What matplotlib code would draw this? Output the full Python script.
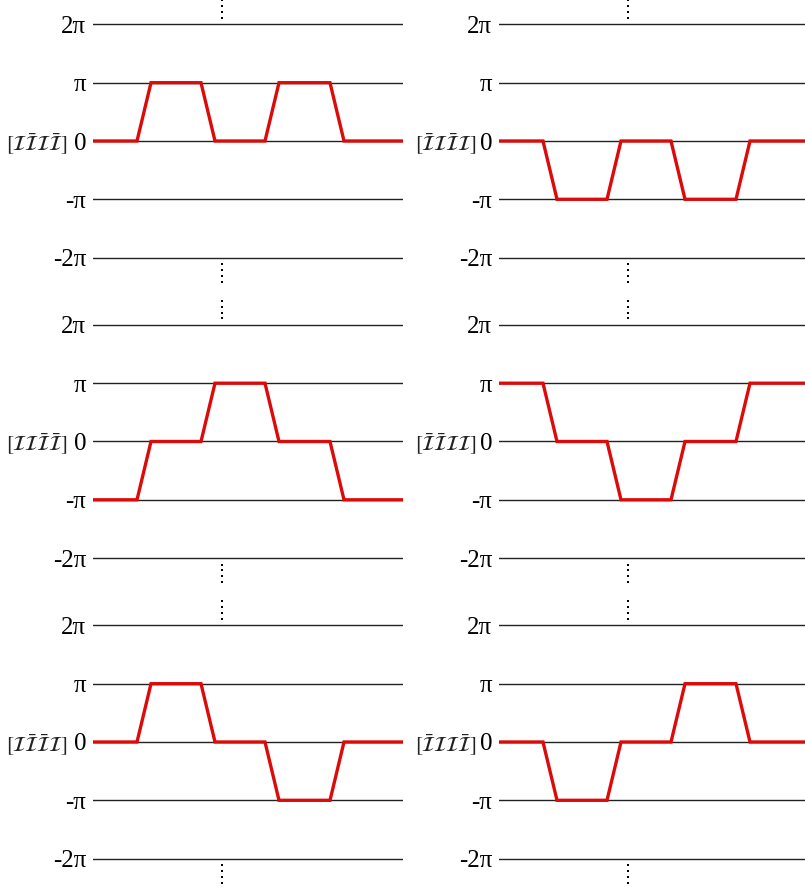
import numpy as np
import matplotlib
matplotlib.use('Agg')
import matplotlib.pyplot as plt

plt.rcParams['font.family'] = ['Liberation Serif', 'DejaVu Serif']
plt.rcParams['mathtext.fontset'] = 'stix'

# breakpoints of the trajectories (flat parts joined by short ramps)
t_break = [0, 44, 58, 108, 122, 172, 186, 237, 251, 310]

# level of each flat part, in units of pi
levels_tl = [0, 1, 0, 1, 0]
levels_tr = [0, -1, 0, -1, 0]
levels_ml = [-1, 0, 1, 0, -1]
levels_mr = [1, 0, -1, 0, 1]
levels_bl = [0, 1, 0, -1, 0]
levels_br = [0, -1, 0, 1, 0]

# sequence labels (b = barred)
seq_tl = ['I', 'b', 'I', 'b']
seq_tr = ['b', 'I', 'b', 'I']
seq_ml = ['I', 'I', 'b', 'b']
seq_mr = ['b', 'b', 'I', 'I']
seq_bl = ['I', 'b', 'b', 'I']
seq_br = ['b', 'I', 'I', 'b']

tick_vals = [2, 1, 0, -1, -2]
tick_text = ['2π', 'π', '0', '-π', '-2π']
dots_y = [2.11, 2.21, 2.31, 2.41]
dots_x = 129


def seq_label(seq):
    s = ''
    for c in seq:
        s += r'\bar{\mathcal{I}}' if c == 'b' else r'\mathcal{I}'
    return r'$[' + s + r']$'


W, H = 805, 892
fig = plt.figure(figsize=(W / 100, H / 100), dpi=100)

panels = [(0, 0, levels_tl, seq_tl), (0, 1, levels_tr, seq_tr),
          (1, 0, levels_ml, seq_ml), (1, 1, levels_mr, seq_mr),
          (2, 0, levels_bl, seq_bl), (2, 1, levels_br, seq_br)]

ylim = 150 / 58.3
for row, col, lev, seq in panels:
    c = 141 + 300.5 * row
    left = 93 if col == 0 else 499
    ax = fig.add_axes([left / W, (H - (c + 150)) / H, 310 / W, 300 / H])
    for v in tick_vals:
        ax.axhline(v, color='#222222', lw=1.0, zorder=1)
    y = np.repeat(lev, 2)
    ax.plot(t_break, y, color='#dd0a0a', lw=2.4, zorder=3,
            solid_joinstyle='miter')
    for s in (1, -1):
        ax.plot([dots_x] * len(dots_y), [s * d for d in dots_y], 's',
                color='black', ms=2.0, mew=0, clip_on=False)
    ax.set_xlim(0, 310)
    ax.set_ylim(-ylim, ylim)
    ax.set_yticks(tick_vals)
    ax.set_yticklabels(tick_text)
    ax.set_xticks([])
    ax.tick_params(axis='y', length=0, pad=5, labelsize=18)
    ax.annotate(seq_label(seq), xy=(0, 0), xycoords=('axes fraction', 'data'),
                xytext=(-25 if col == 0 else -22, 0), textcoords='offset pixels',
                ha='right', va='center_baseline', fontsize=15, color='#222222')
    for sp in ax.spines.values():
        sp.set_visible(False)
    ax.patch.set_alpha(0)

fig.savefig('out.png', dpi=100)
